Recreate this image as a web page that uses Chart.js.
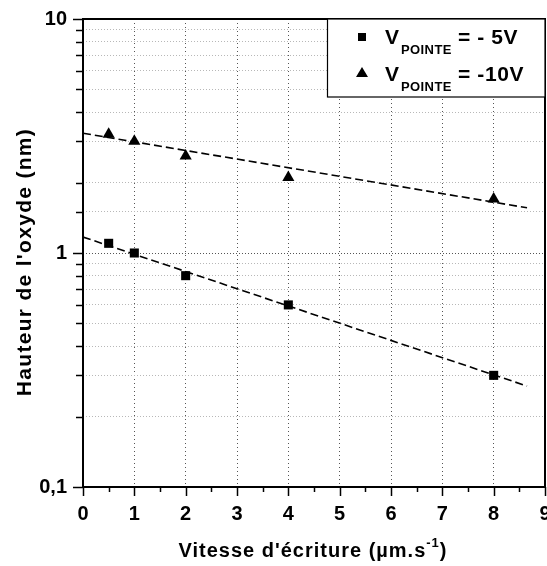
<!DOCTYPE html>
<html>
<head>
<meta charset="utf-8">
<script src="https://cdn.jsdelivr.net/npm/chart.js@4"></script>
<style>
  html, body { margin: 0; padding: 0; background: #fff; }
  #wrap { width: 547px; height: 566px; }
</style>
</head>
<body>
<div id="wrap"><canvas id="c" width="547" height="566"></canvas></div>
<script>
// values
var vitesse = [0.5, 1, 2, 4, 8];
var hauteur5V = [1.10, 1.00, 0.80, 0.60, 0.30];
var hauteur10V = [3.22, 3.00, 2.60, 2.10, 1.70];
// dashed fit lines (end points)
var fitX = [0, 8.65];
var fit5V = [1.17, 0.27];
var fit10V = [3.25, 1.56];
var xTicks = [0, 1, 2, 3, 4, 5, 6, 7, 8, 9];
var yLabels = { "0.1": "0,1", "1": "1", "10": "10" };

var FONT = "'Liberation Sans', Arial, sans-serif";

function pts(xs, ys) {
	return xs.map(function (x, i) { return { x: x, y: ys[i] }; });
}

function isDecade(v) {
	var l = Math.log10(v);
	return Math.abs(l - Math.round(l)) < 1e-6;
}

// frame, tick marks, axis titles and legend
var decor = {
	id: "decor",
	afterDraw: function (chart) {
		var ctx = chart.ctx;
		var a = chart.chartArea;
		var xs = chart.scales.x, ys = chart.scales.y;
		ctx.save();
		ctx.strokeStyle = "#000";
		ctx.lineWidth = 1.5;
		// x ticks, major at integers, minor at halves
		for (var v = 0; v <= 9; v += 0.5) {
			var px = Math.round(xs.getPixelForValue(v)) + 0.5;
			var len = v % 1 === 0 ? 9 : 5;
			ctx.beginPath();
			ctx.moveTo(px, a.bottom);
			ctx.lineTo(px, a.bottom + len);
			ctx.stroke();
		}
		// y ticks on the log scale
		ys.ticks.forEach(function (t) {
			var py = Math.round(ys.getPixelForValue(t.value)) + 0.5;
			var len = isDecade(t.value) ? 10 : 7;
			ctx.beginPath();
			ctx.moveTo(a.left, py);
			ctx.lineTo(a.left - len, py);
			ctx.stroke();
		});
		// frame
		ctx.lineWidth = 2;
		ctx.strokeRect(a.left, a.top, a.right - a.left, a.bottom - a.top);

		// legend box
		var lw = 218, lh = 78;
		var lx = a.right - lw, ly = a.top;
		ctx.fillStyle = "#fff";
		ctx.fillRect(lx, ly, lw, lh);
		ctx.lineWidth = 1.2;
		ctx.strokeRect(lx + 0.5, ly, lw - 0.5, lh);
		ctx.fillStyle = "#000";
		// markers
		ctx.fillRect(lx + 31, ly + 14, 8, 8);
		ctx.beginPath();
		ctx.moveTo(lx + 35, ly + 48);
		ctx.lineTo(lx + 41, ly + 58);
		ctx.lineTo(lx + 29, ly + 58);
		ctx.closePath();
		ctx.fill();
		var rows = [["= - 5V", ly + 25], ["= -10V", ly + 62]];
		rows.forEach(function (r) {
			ctx.textAlign = "left";
			ctx.textBaseline = "alphabetic";
			ctx.letterSpacing = "0px";
			ctx.font = "bold 21px " + FONT;
			ctx.fillText("V", lx + 58, r[1]);
			ctx.font = "bold 13px " + FONT;
			ctx.letterSpacing = "0.4px";
			ctx.fillText("POINTE", lx + 74, r[1] + 10);
			ctx.font = "bold 21px " + FONT;
			ctx.letterSpacing = "0.6px";
			ctx.fillText(r[0], lx + 131, r[1]);
		});

		// y axis title
		ctx.save();
		ctx.translate(25, 262);
		ctx.rotate(-Math.PI / 2);
		ctx.textAlign = "center";
		ctx.textBaseline = "middle";
		ctx.font = "bold 21px " + FONT;
		ctx.letterSpacing = "1.3px";
		ctx.fillText("Hauteur de l'oxyde (nm)", 0, 0);
		ctx.restore();

		// x axis title with superscript
		var main = "Vitesse d'écriture (µm.s";
		ctx.letterSpacing = "1px";
		ctx.font = "bold 20px " + FONT;
		var w1 = ctx.measureText(main).width;
		ctx.font = "bold 13px " + FONT;
		var w2 = ctx.measureText("-1").width;
		ctx.font = "bold 20px " + FONT;
		var w3 = ctx.measureText(")").width;
		var x0 = 313 - (w1 + w2 + w3) / 2;
		var base = 557;
		ctx.textAlign = "left";
		ctx.textBaseline = "alphabetic";
		ctx.fillText(main, x0, base);
		ctx.font = "bold 13px " + FONT;
		ctx.fillText("-1", x0 + w1, base - 10);
		ctx.font = "bold 20px " + FONT;
		ctx.fillText(")", x0 + w1 + w2, base);
		ctx.restore();
	}
};

new Chart(document.getElementById("c").getContext("2d"), {
	type: "scatter",
	data: {
		datasets: [
			{
				label: "fit -5V",
				data: pts(fitX, fit5V),
				showLine: true,
				borderColor: "#000",
				borderWidth: 1.6,
				borderDash: [8, 4],
				pointRadius: 0,
			},
			{
				label: "fit -10V",
				data: pts(fitX, fit10V),
				showLine: true,
				borderColor: "#000",
				borderWidth: 1.6,
				borderDash: [8, 4],
				pointRadius: 0,
			},
			{
				label: "V = -5V",
				data: pts(vitesse, hauteur5V),
				pointStyle: "rect",
				pointRadius: 6.4,
				backgroundColor: "#000",
				borderColor: "#000",
				borderWidth: 0,
			},
			{
				label: "V = -10V",
				data: pts(vitesse, hauteur10V),
				pointStyle: "triangle",
				pointRadius: 7,
				backgroundColor: "#000",
				borderColor: "#000",
				borderWidth: 0,
			},
		],
	},
	options: {
		responsive: false,
		animation: false,
		layout: { autoPadding: false, padding: { top: 19, right: 2, left: 0, bottom: 0 } },
		plugins: { legend: { display: false }, tooltip: { enabled: false } },
		scales: {
			x: {
				type: "linear",
				min: 0,
				max: 9,
				afterBuildTicks: function (s) {
					s.ticks = xTicks.map(function (v) { return { value: v }; });
				},
				ticks: {
					color: "#000",
					padding: 15,
					font: { family: FONT, size: 20, weight: "bold" },
				},
				grid: {
					drawTicks: false,
					lineWidth: 1,
					color: function (c) {
						var v = c.tick && c.tick.value;
						return v === 0 || v === 9 ? "rgba(0,0,0,0)" : "#555";
					},
				},
				border: { display: false, dash: [1, 3] },
				afterFit: function (s) {
					s.height = 79;
					s.paddingLeft = 0;
					s.paddingRight = 0;
				},
			},
			y: {
				type: "logarithmic",
				min: 0.1,
				max: 10,
				ticks: {
					autoSkip: false,
					color: "#000",
					padding: 16,
					font: { family: FONT, size: 20, weight: "bold" },
					callback: function (v) {
						if (!isDecade(v)) return "";
						return yLabels[String(Math.pow(10, Math.round(Math.log10(v))))] || "";
					},
				},
				grid: {
					drawTicks: false,
					lineWidth: 1,
					color: function (c) {
						var v = c.tick && c.tick.value;
						if (v === undefined) return "#bbb";
						if (Math.abs(v - 1) < 1e-6) return "#555";
						if (Math.abs(v - 0.1) < 1e-6 || Math.abs(v - 10) < 1e-6) return "rgba(0,0,0,0)";
						return "#b8b8b8";
					},
				},
				border: { display: false, dash: [1, 2] },
				afterFit: function (s) {
					s.width = 83;
					s.paddingTop = 0;
					s.paddingBottom = 0;
				},
			},
		},
	},
	plugins: [decor],
});
</script>
</body>
</html>
